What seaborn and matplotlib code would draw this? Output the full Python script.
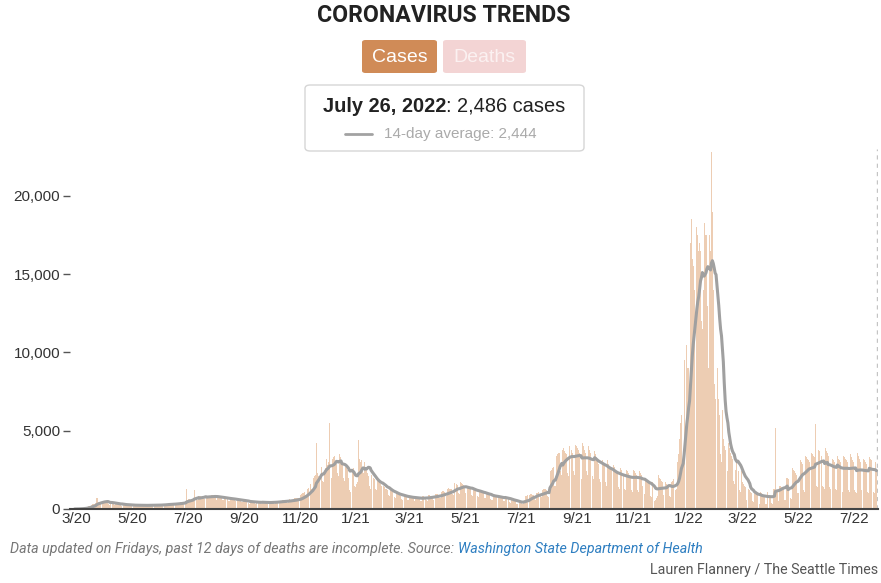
import numpy as np
import pandas as pd
import matplotlib
matplotlib.use("Agg")
import matplotlib.pyplot as plt
from matplotlib.patches import FancyBboxPatch
import seaborn as sns

# Daily reported COVID-19 cases in Washington State, one list per month
feb20 = [0, 1]
mar20 = [5, 10, 12, 20, 25, 30, 40, 55, 70, 90, 110, 130, 150, 170, 190, 220, 250, 270, 300, 330,
         310, 380, 690, 720, 420, 450, 470, 430, 400, 480, 520]
apr20 = [450, 430, 410, 440, 300, 280, 420, 400, 380, 390, 300, 260, 350, 340, 330, 310, 290, 240, 220, 300,
         290, 280, 270, 260, 210, 200, 270, 260, 250, 260]
may20 = [250, 220, 190, 260, 250, 240, 260, 250, 200, 180, 240, 250, 260, 240, 250, 200, 190, 250, 260, 270,
         250, 260, 200, 180, 210, 270, 280, 270, 290, 230, 210]
jun20 = [280, 300, 310, 320, 300, 240, 230, 310, 330, 350, 340, 330, 270, 250, 340, 360, 380, 370, 360, 300,
         280, 400, 420, 450, 460, 440, 380, 360, 520, 1280]
jul20 = [600, 620, 650, 500, 480, 560, 700, 1240, 720, 760, 640, 600, 800, 820, 840, 780, 760, 650, 620, 880,
         900, 860, 850, 820, 700, 680, 900, 880, 860, 820, 780]
aug20 = [640, 600, 820, 800, 760, 740, 700, 600, 560, 760, 740, 700, 680, 660, 540, 500, 700, 680, 650, 640,
         620, 500, 460, 620, 600, 580, 560, 540, 440, 420, 560]
sep20 = [540, 520, 500, 480, 400, 360, 340, 460, 500, 480, 460, 380, 340, 470, 480, 470, 450, 440, 360, 320,
         460, 450, 440, 430, 420, 340, 310, 450, 470, 460]
oct20 = [480, 470, 380, 340, 500, 520, 510, 500, 480, 400, 360, 540, 560, 550, 540, 520, 420, 400, 600, 620,
         620, 600, 580, 460, 440, 680, 700, 720, 700, 680, 540]
nov20 = [520, 900, 950, 1000, 1050, 1100, 900, 850, 1300, 1350, 1400, 1500, 1600, 1300, 1200, 2000, 2100, 2200,
         4200, 2300, 2100, 2000, 2800, 2900, 2700, 1800, 1700, 2400, 2600, 3200]
dec20 = [2800, 3000, 5500, 3100, 2200, 2000, 3200, 3300, 3400, 3000, 2900, 2300, 2100, 3500, 3300, 3200, 3100,
         2800, 2000, 1800, 2700, 2600, 2500, 2000, 1200, 1100, 2300, 4100, 2400, 2600, 1500]
jan21 = [1400, 1600, 1700, 4400, 3200, 3000, 3100, 2900, 2500, 2300, 3000, 2700, 2500, 2300, 2100, 1500, 1300,
         2200, 2000, 1900, 2000, 1900, 1300, 1200, 1900, 1800, 1700, 1600, 1500, 1100, 1000]
feb21 = [1500, 1400, 1300, 1250, 1200, 900, 850, 1200, 1150, 1100, 1050, 1000, 750, 700, 1000, 950, 900, 880,
         850, 650, 600, 900, 880, 850, 820, 800, 600, 580]
mar21 = [800, 780, 760, 740, 720, 560, 540, 780, 760, 740, 720, 700, 520, 500, 800, 820, 800, 780, 760, 560,
         540, 900, 880, 860, 840, 820, 600, 580, 1000, 980, 960]
apr21 = [940, 920, 700, 680, 1100, 1150, 1120, 1100, 1080, 820, 800, 1300, 1320, 1300, 1280, 1260, 950, 900,
         1650, 1620, 1600, 1580, 1550, 1000, 950, 1700, 1650, 1600, 1550, 1500]
may21 = [1000, 950, 1450, 1400, 1380, 1350, 1300, 900, 850, 1350, 1300, 1250, 1200, 1150, 800, 780, 1200, 1150,
         1100, 1050, 1000, 700, 680, 1050, 1000, 980, 950, 900, 620, 600, 580]
jun21 = [900, 880, 860, 840, 600, 580, 860, 820, 780, 760, 720, 500, 480, 740, 720, 700, 680, 650, 420, 400,
         560, 540, 520, 500, 480, 320, 300, 460, 440, 420]
jul21 = [460, 440, 300, 500, 600, 800, 850, 900, 600, 550, 900, 950, 950, 900, 900, 650, 600, 1000, 1050, 1100,
         1150, 1200, 800, 750, 1200, 1250, 1300, 1250, 1200, 800, 750]
aug21 = [800, 5400, 2400, 2500, 2600, 2700, 1500, 1450, 3400, 3500, 3600, 3600, 3600, 2400, 2200, 3800, 3900,
         3700, 3600, 3500, 2300, 2100, 4000, 4100, 3900, 3800, 3600, 2400, 2200, 4100, 4000]
sep21 = [3900, 3800, 3600, 2300, 2000, 1900, 4200, 4000, 3800, 3600, 2400, 2200, 4000, 3800, 3600, 3400, 3200,
         2100, 1900, 3700, 3500, 3300, 3100, 2900, 1900, 1700, 3500, 3300, 3100, 2900]
oct21 = [2800, 1700, 1500, 3100, 2900, 2700, 2600, 2500, 1500, 1400, 2800, 2700, 2500, 2400, 2300, 1400, 1300,
         2600, 2500, 2400, 2300, 2200, 1300, 1200, 2500, 2400, 2300, 2200, 2100, 1200, 1100]
nov21 = [2600, 2500, 2400, 2300, 2200, 1200, 1100, 2400, 2300, 2200, 1500, 2000, 1000, 950, 2000, 1900, 1800,
         1700, 1600, 800, 750, 1700, 1600, 1500, 500, 600, 700, 800, 2200, 2000]
dec21 = [1900, 1800, 1700, 900, 850, 1800, 1700, 1600, 1500, 1400, 800, 750, 1700, 1800, 1900, 2000, 2100, 1200,
         1300, 3000, 3500, 4500, 5500, 6000, 3000, 3200, 9500, 11000, 12000, 10500, 9000]
jan22 = [9000, 7000, 17000, 18500, 16000, 15500, 14000, 11000, 10500, 18000, 17500, 16500, 17000, 16500, 12000,
         11500, 14000, 18300, 17500, 17000, 17500, 13000, 9000, 17500, 16500, 22800, 19000, 14000, 8000, 7000,
         12500]
feb22 = [9000, 9000, 7000, 6000, 3500, 3000, 6300, 4500, 4000, 3800, 3600, 2400, 2400, 4200, 3900, 3600, 3400,
         3200, 1800, 1600, 2500, 3000, 2800, 4400, 2400, 1200, 1100, 2400]
mar22 = [1700, 1600, 1500, 1400, 600, 500, 1500, 1300, 1200, 1100, 1000, 500, 450, 1200, 1100, 1000, 950, 900,
         400, 350, 1100, 1000, 950, 900, 850, 350, 300, 1100, 1000, 950, 900]
apr22 = [850, 400, 350, 1300, 1250, 5150, 1200, 1150, 500, 450, 1500, 1450, 1400, 1350, 1300, 600, 550, 2000,
         1950, 1900, 1850, 1800, 700, 650, 2600, 2500, 2400, 2300, 2200, 1000]
may22 = [1000, 3300, 3200, 3100, 3000, 2900, 1200, 1100, 3400, 3300, 3200, 3100, 3000, 1300, 1200, 3600, 3500,
         3400, 3300, 5400, 1500, 1400, 3800, 3700, 3600, 3500, 3400, 1500, 1400, 1300, 3900]
jun22 = [3700, 3600, 3400, 1400, 1300, 3500, 3300, 3200, 3100, 3000, 1300, 1200, 3400, 3200, 3100, 3000, 2900,
         1200, 1100, 3400, 3300, 3200, 3100, 3000, 1200, 1100, 3500, 3300, 3200, 3100]
jul22 = [3000, 1200, 1100, 1000, 3600, 3400, 3200, 3000, 1200, 1100, 3300, 3200, 3100, 3000, 2900, 1100, 1000,
         3300, 3200, 3100, 3000, 2900, 1100, 1000, 3030, 2486]

first_day = "2020-02-28"
tick_dates = ["2020-03-01", "2020-05-01", "2020-07-01", "2020-09-01", "2020-11-01",
              "2021-01-01", "2021-03-01", "2021-05-01", "2021-07-01", "2021-09-01", "2021-11-01",
              "2022-01-01", "2022-03-01", "2022-05-01", "2022-07-01"]
y_ticks = [0, 5000, 10000, 15000, 20000]

months = [feb20, mar20, apr20, may20, jun20, jul20, aug20, sep20, oct20, nov20, dec20,
          jan21, feb21, mar21, apr21, may21, jun21, jul21, aug21, sep21, oct21, nov21, dec21,
          jan22, feb22, mar22, apr22, may22, jun22, jul22]
cases = np.concatenate([np.asarray(m, dtype=float) for m in months])
dates = pd.date_range(first_day, periods=len(cases), freq="D")
day = np.arange(len(cases))
avg14 = pd.Series(cases).rolling(14, min_periods=1).mean().to_numpy()
df = pd.DataFrame({"day": day, "cases": cases, "avg": avg14})

sns.set_theme(style="white")
plt.rcParams["font.family"] = ["Liberation Sans", "DejaVu Sans"]

W, H = 881, 583
fig = plt.figure(figsize=(W / 100, H / 100), dpi=100)
ax = fig.add_axes([70 / W, 74 / H, 808 / W, 360 / H])

BAR = "#edcdb3"
sns.histplot(data=df, x="day", weights="cases", discrete=True, shrink=0.92,
             color=BAR, edgecolor="none", linewidth=0, alpha=1.0, ax=ax)
sns.lineplot(data=df, x="day", y="avg", color="#a0a0a0", linewidth=2.2, ax=ax)

ax.axvline(day[-1] + 0.8, color="#c4c4c4", lw=1.0, ls=(0, (3, 3)), zorder=0)

ax.set_xlim(-5, 880.5)
ax.set_ylim(0, 23000)
ax.set_xlabel("")
ax.set_ylabel("")

start = pd.Timestamp(first_day)
tpos = [(pd.Timestamp(t) - start).days for t in tick_dates]
tlab = [f"{pd.Timestamp(t).month}/{pd.Timestamp(t).year % 100}" for t in tick_dates]
ax.set_xticks(tpos)
ax.set_xticklabels(tlab, fontsize=11, color="#333333")
ax.set_yticks(y_ticks)
ax.set_yticklabels([f"{v:,}" for v in y_ticks], fontsize=11, color="#333333")
ax.tick_params(axis="x", length=0, pad=2)
ax.tick_params(axis="y", length=5, width=1, color="#555555", direction="out", pad=2, left=True)

for s in ["top", "right", "left"]:
    ax.spines[s].set_visible(False)
ax.spines["bottom"].set_color("#444444")
ax.spines["bottom"].set_linewidth(1.5)
ax.grid(False)

CX = 444 / W


def fy(py):
    return 1 - py / H


# Title and the Cases / Deaths toggle
fig.text(CX, fy(15), "CORONAVIRUS TRENDS", ha="center", va="center", fontsize=16.7,
         fontweight="bold", family=["Roboto", "DejaVu Sans"], color="#222222")

for x0, x1, fc, tc, label in [(362, 437, "#d08b57", "#ffffff", "Cases"),
                              (443, 526, "#f3d4d4", "#fbf1f1", "Deaths")]:
    fig.patches.append(FancyBboxPatch((x0 / W, fy(73)), (x1 - x0) / W, 33 / H,
                                      boxstyle="round,pad=0,rounding_size=0.004",
                                      transform=fig.transFigure, facecolor=fc,
                                      edgecolor="none"))
    fig.text((x0 + x1) / 2 / W, fy(57), label, ha="center", va="center",
             fontsize=14, color=tc)

# Hover readout box
fig.patches.append(FancyBboxPatch((305 / W, fy(151)), 279 / W, 66 / H,
                                  boxstyle="round,pad=0,rounding_size=0.006",
                                  transform=fig.transFigure, facecolor="white",
                                  edgecolor="#d6d6d6", linewidth=1.0))

last = dates[-1]
bold_part = f"{last:%B} {last.day}, {last.year}"
rest_part = f": {int(cases[-1]):,} cases"
renderer = fig.canvas.get_renderer()
t1 = fig.text(0, fy(106), bold_part, ha="left", va="center", fontsize=14.4,
              fontweight="bold", color="#222222")
t2 = fig.text(0, fy(106), rest_part, ha="left", va="center", fontsize=14.4, color="#222222")
w1 = t1.get_window_extent(renderer).width
w2 = t2.get_window_extent(renderer).width
x_start = 444 - (w1 + w2) / 2
t1.set_x(x_start / W)
t2.set_x((x_start + w1) / W)

fig.add_artist(plt.Line2D([345 / W, 372 / W], [fy(134), fy(134)], transform=fig.transFigure,
                          color="#a2a2a2", linewidth=2))
fig.text(384 / W, fy(134), f"14-day average: {avg14[-1]:,.0f}", ha="left", va="center",
         fontsize=11, color="#aaaaaa")

# Footer: source line and credit
f1 = fig.text(10 / W, fy(549), "Data updated on Fridays, past 12 days of deaths are incomplete. Source: ",
              ha="left", va="center", fontsize=10.3, style="italic", color="#777777",
              family=["Roboto", "DejaVu Sans"])
fw = f1.get_window_extent(renderer).width
fig.text((10 + fw) / W, fy(549), "Washington State Department of Health", ha="left", va="center",
         fontsize=10.3, style="italic", color="#2f7fc1", family=["Roboto", "DejaVu Sans"])
fig.text(878 / W, fy(570), "Lauren Flannery / The Seattle Times", ha="right", va="center",
         fontsize=10.3, color="#555555", family=["Roboto", "DejaVu Sans"])

fig.savefig("out.png", dpi=100)
